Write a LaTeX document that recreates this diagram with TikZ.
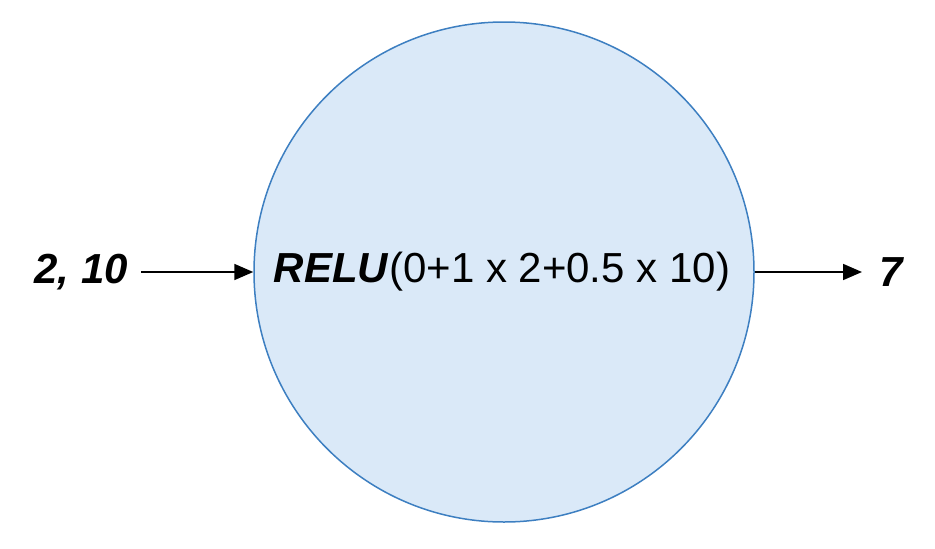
\documentclass[tikz,border=0pt]{standalone}
\usepackage{fontspec}
\setmainfont{Liberation Sans}
\usetikzlibrary{arrows.meta}
\definecolor{cfill}{HTML}{DAE9F8}
\definecolor{cstroke}{HTML}{3D7FC1}
\begin{document}
\begin{tikzpicture}[x=1pt,y=-1pt,
  neuron/.style={circle,draw=cstroke,fill=cfill,line width=1.5pt,minimum size=500pt,inner sep=0pt},
  lbl/.style={font=\fontsize{42}{48}\selectfont,inner sep=0pt},
  conn/.style={line width=1.8pt,-{Triangle[length=19pt,width=16pt]}}]
\useasboundingbox (0,0) rectangle (935,549);
\node[neuron] (n) at (504,272) {};
\node[lbl] (t) at (502,272) {\textbf{\textit{RELU}}(0+1 x 2+0.5 x 10)};
\node[lbl,anchor=east] (in) at (128,272) {\textbf{\textit{2, 10}}};
\node[lbl,anchor=west] (out) at (879,272) {\textbf{\textit{7}}};
\draw[conn] ([xshift=13pt]in.east) -- (n.west);
\draw[conn] (n.east) -- ([xshift=-17pt]out.west);
\end{tikzpicture}
\end{document}
